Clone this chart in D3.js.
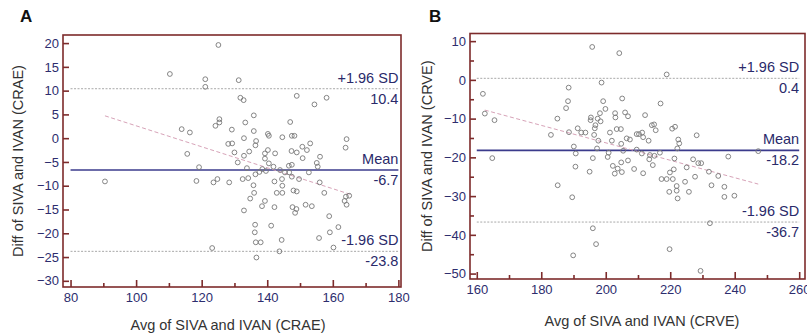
<!DOCTYPE html>
<html>
<head>
<meta charset="utf-8">
<script src="https://cdn.jsdelivr.net/npm/d3@7"></script>
<style>
  body { margin: 0; background: #fff; }
  svg { display: block; font-family: "Liberation Sans", Arial, sans-serif; }
  .tick text { fill: #2d2d6e; font-size: 13px; }
</style>
</head>
<body>
<svg width="807" height="336"></svg>
<script>
// Panel A (CRAE) - Bland-Altman points
const aAvg = [125.1, 110.3, 121.1, 121.1, 131.3, 131.8, 132.8, 135.9, 125.4, 125.4, 124.2, 113.9, 116.4,
  133.3, 135.9, 129.2, 132.9, 136.6, 136.4, 128.1, 129.3, 115.6, 130.0, 134.5, 132.9, 131.0, 119.2,
  133.8, 90.5, 118.4, 124.8, 123.6, 128.4, 132.5, 134.2, 136.4, 136.0, 134.8, 132.9, 136.3, 136.2,
  136.5, 123.2, 136.7,
  149.0, 158.1, 154.4, 147.0, 140.2, 140.5, 144.6, 147.5, 148.3, 153.1, 150.7, 152.1, 147.4, 149.0,
  139.3, 140.2, 142.4, 150.8, 156.1, 155.1, 155.4, 164.2, 163.9, 139.3, 140.5, 141.9, 138.5, 139.6,
  137.6, 143.9, 145.4, 146.6, 147.5, 146.7, 147.5, 144.5, 142.2, 149.7, 152.7, 156.0, 144.6, 135.8,
  142.9, 144.6, 148.0, 149.0, 157.4, 139.3, 138.4, 142.2, 147.7, 148.9, 148.5, 151.7, 153.6, 164.0,
  165.0, 163.6, 164.2, 158.9, 161.7, 159.1, 155.8, 160.2, 141.2, 144.4, 138.0, 143.7];
const aDiff = [19.6, 13.5, 12.4, 10.8, 12.2, 8.5, 8.0, 4.8, 4.0, 3.3, 2.6, 1.9, 1.2,
  3.3, 1.5, 1.8, 0.0, -0.6, -1.5, -1.2, -1.1, -3.3, -3.0, -2.8, -3.7, -5.1, -6.1,
  -6.3, -9.1, -9.0, -8.6, -9.3, -9.3, -8.6, -8.4, -7.6, -11.5, -12.7, -15.2, -18.2, -19.8,
  -21.9, -23.1, -25.1,
  8.9, 8.5, 7.1, 3.4, 0.9, 0.5, 0.2, 0.5, 0.5, -1.1, -1.8, -2.5, -2.7, -3.0,
  -3.2, -2.5, -3.2, -4.2, -3.9, -5.2, -6.0, -0.2, -2.0, -4.3, -5.3, -6.0, -6.5, -6.9,
  -7.1, -6.7, -7.2, -5.8, -5.6, -7.2, -8.1, -8.6, -9.1, -8.6, -7.2, -9.3, -10.0, -9.9,
  -11.5, -11.5, -11.0, -11.2, -11.5, -13.2, -14.3, -14.5, -14.5, -14.9, -15.7, -14.0, -14.3, -12.3,
  -12.1, -13.2, -14.0, -16.4, -18.7, -19.8, -21.0, -23.0, -18.4, -21.4, -21.9, -23.8];
const aStats = [10.4, -6.7, -23.8];          // +1.96 SD, mean, -1.96 SD
const aTrend = [[90.5, 4.7], [165.3, -11.8]];

// Panel B (CRVE)
const bAvg = [161.9, 162.5, 165.5, 164.8, 195.8, 204.2, 198.7, 188.5, 188.3, 187.7, 205.1, 199.2,
  199.9, 198.2, 197.5, 195.4, 195.3, 198.4, 196.8, 196.6, 202.9, 203.0, 206.0, 206.9, 185.0, 183.0,
  188.6, 191.3, 192.4, 193.7, 196.4, 197.7, 201.3, 203.4, 204.7, 201.9, 204.8, 206.5, 207.5, 209.6,
  190.1, 190.7, 197.3, 200.9, 205.4, 209.6, 196.0, 200.6, 190.6, 195.0, 202.2, 202.8, 203.7, 204.8,
  205.0, 206.9, 208.8, 185.1, 189.6, 196.0, 197.0, 189.9,
  218.9, 217.0, 212.2, 214.3, 215.0, 215.5, 220.6, 221.5, 228.2, 210.3, 211.3, 211.6, 213.3, 222.5,
  222.8, 222.2, 211.2, 213.7, 215.1, 213.5, 214.6, 216.8, 211.6, 221.3, 227.1, 228.7, 229.6, 225.1,
  221.1, 219.9, 217.3, 218.9, 220.8, 227.7, 232.0, 234.9, 224.6, 222.0, 222.0, 219.7, 225.8, 222.3,
  232.8, 236.8, 236.8, 239.9, 238.0, 247.3, 232.3, 219.8, 229.4];
const bDiff = [-3.6, -8.7, -10.4, -20.2, 8.5, 6.9, -0.7, -2.0, -5.5, -7.3, -4.8, -5.5,
  -7.5, -8.6, -10.0, -9.7, -10.4, -10.7, -11.7, -12.5, -8.6, -9.7, -8.4, -9.4, -10.0, -14.2,
  -13.5, -12.5, -13.6, -13.6, -14.2, -15.7, -13.6, -12.7, -12.7, -15.7, -16.5, -15.1, -15.4, -14.0,
  -17.2, -19.0, -17.7, -18.8, -18.3, -18.0, -20.2, -19.9, -22.4, -23.7, -22.2, -24.2, -22.9, -21.3,
  -23.8, -20.8, -23.0, -27.2, -30.3, -38.3, -42.4, -45.3,
  1.4, -6.1, -9.1, -11.7, -11.5, -13.0, -12.6, -12.1, -14.3, -14.0, -13.6, -14.8, -15.7, -15.4,
  -16.4, -17.7, -19.0, -19.4, -19.6, -20.5, -22.0, -18.8, -24.1, -20.3, -20.5, -21.5, -21.5, -22.6,
  -23.1, -23.9, -25.6, -25.6, -25.6, -25.0, -23.7, -24.8, -26.3, -27.4, -28.6, -28.9, -28.9, -30.6,
  -27.2, -27.6, -30.2, -29.9, -19.8, -18.4, -37.0, -43.7, -49.3];
const bStats = [0.4, -18.2, -36.7];
const bTrend = [[162.5, -7.8], [247.3, -26.9]];

const statNames = ['+1.96 SD', 'Mean', '-1.96 SD'];

const svg = d3.select('svg');

//////////////////////////////////////////////////////////////////
function drawPanel(p) {
  const x = d3.scaleLinear().domain(p.xDomain).range([p.left, p.right]);
  const y = d3.scaleLinear().domain(p.yDomain).range([p.bottom, p.top]);
  const g = svg.append('g');

  // panel letter
  g.append('text')
    .attr('x', p.letterX).attr('y', 22)
    .attr('font-size', 17).attr('font-weight', 'bold').attr('fill', '#111')
    .text(p.letter);

  // limit + mean lines, from first to last major tick
  const [x0, x1] = [p.xTicks[0], p.xTicks[p.xTicks.length - 1]];
  p.stats.forEach((v, i) => {
    const isMean = i === 1;
    g.append('line')
      .attr('x1', x(x0)).attr('x2', x(x1))
      .attr('y1', y(v)).attr('y2', y(v))
      .attr('stroke', isMean ? '#3b3b8c' : '#a8a8a8')
      .attr('stroke-width', isMean ? 1.6 : 1)
      .attr('stroke-dasharray', isMean ? null : '2,1.5');

    g.append('text')
      .attr('x', x(x1)).attr('y', y(v) - 6)
      .attr('text-anchor', 'end').attr('font-size', 14.5).attr('fill', '#2a2a6a')
      .text(statNames[i]);
    g.append('text')
      .attr('x', x(x1)).attr('y', y(v) + 15)
      .attr('text-anchor', 'end').attr('font-size', 14.5).attr('fill', '#2a2a6a')
      .text(v.toFixed(1));
  });

  // regression line
  g.append('line')
    .attr('x1', x(p.trend[0][0])).attr('y1', y(p.trend[0][1]))
    .attr('x2', x(p.trend[1][0])).attr('y2', y(p.trend[1][1]))
    .attr('stroke', '#d7a3b8').attr('stroke-width', 1)
    .attr('stroke-dasharray', '4,2.5');

  // points
  g.append('g')
    .selectAll('circle')
    .data(p.avg.map((a, i) => [a, p.diff[i]]))
    .enter()
    .append('circle')
      .attr('cx', d => x(d[0]))
      .attr('cy', d => y(d[1]))
      .attr('r', 2.4)
      .attr('fill', 'none')
      .attr('stroke', '#777')
      .attr('stroke-width', 0.9);

  // axes with inward ticks
  const axisColor = '#7d2b2b';
  const yAxis = g.append('g')
    .attr('transform', `translate(${p.left},0)`)
    .call(d3.axisLeft(y).tickValues(p.yTicks).tickSize(-6).tickPadding(4));
  if (p.yMinor) {
    g.append('g')
      .attr('transform', `translate(${p.left},0)`)
      .call(d3.axisLeft(y).tickValues(p.yMinor).tickSize(-4).tickFormat(() => ''));
  }
  const xAxis = g.append('g')
    .attr('transform', `translate(0,${p.bottom})`)
    .call(d3.axisBottom(x).tickValues(p.xTicks).tickSize(-7).tickPadding(6));
  g.append('g')
    .attr('transform', `translate(0,${p.bottom})`)
    .call(d3.axisBottom(x).tickValues(p.xMinor).tickSize(-4).tickFormat(() => ''));

  g.selectAll('.domain').remove();
  g.selectAll('.tick line').attr('stroke', axisColor).attr('stroke-width', 1.6);
  yAxis.selectAll('text').attr('font-size', 13.5);
  xAxis.selectAll('text').attr('font-size', 13.5);

  // frame
  g.append('rect')
    .attr('x', p.left).attr('y', p.top)
    .attr('width', p.right - p.left).attr('height', p.bottom - p.top)
    .attr('fill', 'none').attr('stroke', axisColor).attr('stroke-width', 1.6);

  // titles
  g.append('text')
    .attr('x', p.xTitleX).attr('y', p.xTitleY)
    .attr('text-anchor', 'middle').attr('font-size', 14.5).attr('fill', '#333')
    .text(p.xTitle);
  g.append('text')
    .attr('transform', `translate(${p.yTitleX},${(p.top + p.bottom) / 2}) rotate(-90)`)
    .attr('text-anchor', 'middle').attr('font-size', 14.5).attr('fill', '#333')
    .text(p.yTitle);
}

drawPanel({
  letter: 'A', letterX: 20,
  left: 63, right: 401, top: 35, bottom: 287,
  xDomain: [77.7, 180.8], yDomain: [-31.3, 21.7],
  xTicks: [80, 100, 120, 140, 160, 180], xMinor: [90, 110, 130, 150, 170],
  yTicks: d3.range(-30, 21, 5), yMinor: null,
  avg: aAvg, diff: aDiff, stats: aStats, trend: aTrend,
  xTitle: 'Avg of SIVA and IVAN (CRAE)', xTitleX: 228, xTitleY: 330,
  yTitle: 'Diff of SIVA and IVAN (CRAE)', yTitleX: 23
});

drawPanel({
  letter: 'B', letterX: 429,
  left: 470, right: 805, top: 33.5, bottom: 279,
  xDomain: [157.9, 261.8], yDomain: [-51.4, 11.97],
  xTicks: [160, 180, 200, 220, 240, 260], xMinor: [170, 190, 210, 230, 250],
  yTicks: d3.range(-50, 11, 10), yMinor: d3.range(-45, 10, 10),
  avg: bAvg, diff: bDiff, stats: bStats, trend: bTrend,
  xTitle: 'Avg of SIVA and IVAN (CRVE)', xTitleX: 642, xTitleY: 326,
  yTitle: 'Diff of SIVA and IVAN (CRVE)', yTitleX: 432
});
</script>
</body>
</html>
